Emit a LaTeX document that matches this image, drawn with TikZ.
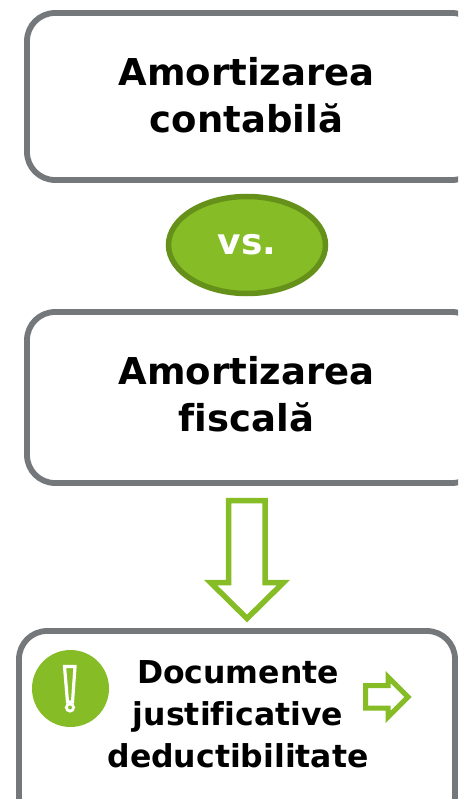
\documentclass[tikz,border=0pt]{standalone}
\usetikzlibrary{shapes.geometric}
\usepackage{fontspec}
\setmainfont[Ligatures=NoCommon]{DejaVu Sans}
\definecolor{grayline}{HTML}{75787B}
\definecolor{leaf}{HTML}{86BC25}
\definecolor{leafdark}{HTML}{65911B}
\tikzset{
  x=1pt,y=-1pt,
  panel/.style={draw=grayline,line width=5.8pt,fill=white,rounded corners=28pt},
  title/.style={align=center,font=\bfseries\fontsize{37}{47}\selectfont,text=black,inner sep=0pt},
  small/.style={align=center,font=\bfseries\fontsize{31.5}{42}\selectfont,text=black,inner sep=0pt},
  hollow/.style={draw=leaf,fill=white,line width=5.5pt,miter limit=10},
  versus/.style={ellipse,draw=leafdark,fill=leaf,line width=5.5pt,minimum width=157pt,minimum height=97pt,inner sep=0pt,font=\bfseries\fontsize{36}{40}\selectfont,text=white},
}
\begin{document}
\begin{tikzpicture}
\useasboundingbox (0,0) rectangle (458,799);
\begin{scope}
\clip (0,0) rectangle (458,799);
\draw[panel] (27,13) rectangle (480,180);
\draw[panel] (27,312) rectangle (480,483);
\draw[panel] (19,631) rectangle (455,825);
\end{scope}
\node[title] (contabila) at (246.5,95) {Amortizarea\\contabilă};
\node[title] (fiscala) at (246.5,394.5) {Amortizarea\\fiscală};
\node[small] (documente) at (238,714.5) {Documente\\justificative\\deductibilitate};
\node[versus] (vs) at (247,245) {vs.};
\draw[hollow] (228.5,500.5) -- (265,500.5) -- (265,582.5) -- (283.5,582.5) -- (247,618.5) -- (210.5,582.5) -- (228.5,582.5) -- cycle;
\fill[leaf] (70.5,688.5) circle [radius=38.5];
\draw[white,line width=3.2pt] (64.5,666.5) -- (75,666.5) -- (72.5,702) -- (67.5,702) -- cycle;
\draw[white,line width=2.8pt] (70,707.5) circle [radius=3.6];
\draw[leaf,fill=white,line width=5pt,miter limit=10] (365.5,685.5) -- (388,685.5) -- (388,677) -- (408,697) -- (388,717) -- (388,708) -- (365.5,708) -- cycle;
\end{tikzpicture}
\end{document}
